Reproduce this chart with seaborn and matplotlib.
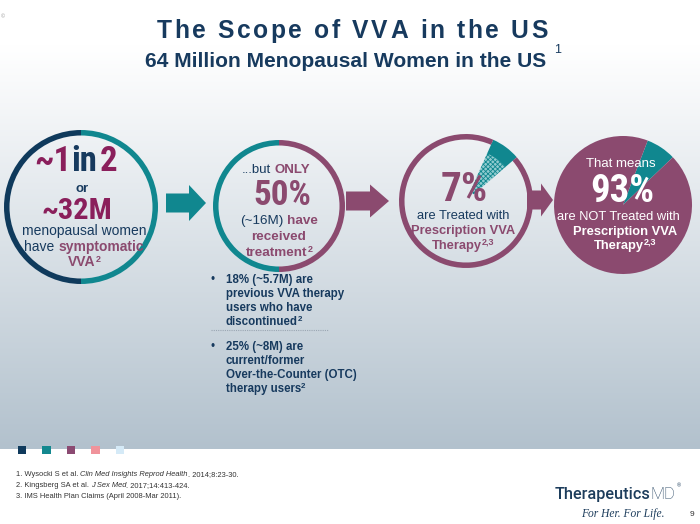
import os
import numpy as np
import pandas as pd
import seaborn as sns
import matplotlib
matplotlib.use("Agg")
import matplotlib.pyplot as plt
from matplotlib.patches import Wedge, Polygon
from matplotlib.colors import to_rgb
from matplotlib import font_manager as fm
from matplotlib.font_manager import FontProperties

# ---------------- data ----------------
title_text = "The Scope of VVA in the US"
subtitle_text = "64 Million Menopausal Women in the US"
symptomatic_split = [50, 50]      # ~1 in 2 menopausal women have symptomatic VVA
treated_split = [50, 50]          # ...but only 50% have received treatment
rx_split = [7, 93]                # treated / NOT treated with prescription VVA therapy
swatch_colors = ["#0f3a5c", "#13888f", "#8b4a72", "#f0939b", "#d5eaf7"]
bullet1 = ["18% (~5.7M) are", "previous VVA therapy", "users who have", "discontinued"]
bullet2 = ["25% (~8M) are", "current/former", "Over-the-Counter (OTC)", "therapy users"]
ref_lines = [
    [("1. Wysocki S et al. ", "normal"), ("Clin Med Insights Reprod Health", "italic"), (". 2014;8:23-30.", "normal")],
    [("2. Kingsberg SA et al. ", "normal"), ("J Sex Med", "italic"), (". 2017;14:413-424.", "normal")],
    [("3. IMS Health Plan Claims (April 2008-Mar 2011).", "normal")],
]

NAVY = "#173a5e"
DNAVY = "#0f3a5c"
TEAL = "#10878f"
PLUM = "#8b4a6f"
MAG = "#8a1f5b"

sns.set_theme(style="white")
SANS = ["Liberation Sans", "DejaVu Sans"]
plt.rcParams["font.family"] = SANS
plt.rcParams["hatch.linewidth"] = 0.6

fig = plt.figure(figsize=(7, 5.24), dpi=100)
ax = fig.add_axes([0, 0, 1, 1])
renderer = fig.canvas.get_renderer()


def _measure(txt, **kw):
    tt = ax.text(0, 0, txt, **kw)
    wd = tt.get_window_extent(renderer).width
    tt.remove()
    return wd


# ---- pick an Arial-Narrow-like bold face only from a known whitelist ----
COND_FP = None
try:
    wanted = ["LiberationSansNarrow-Bold.", "RobotoCondensed-Bold.", "Roboto_Condensed-Bold.",
              "NotoSans-SemiCondensedBold.", "NotoSans-CondensedBold.",
              "OpenSans_Condensed-Bold.", "OpenSansCondensed-Bold.", "OpenSans-CondBold."]
    files = {os.path.basename(f.fname): f.fname for f in fm.fontManager.ttflist}
    ref_w = _measure("~32M 50%", fontsize=20, fontweight="bold", family="Liberation Sans")
    for wnt in wanted:
        hit = [v for k, v in files.items() if k.startswith(wnt)]
        if hit:
            r = _measure("~32M 50%", fontproperties=FontProperties(fname=hit[0]), fontsize=20) / ref_w
            if 0.7 < r < 0.93:
                COND_FP = hit[0]
                break
except Exception:
    COND_FP = None


def P(t, c=NAVY, w="normal", s=None, r=0.0, st="normal", f=None):
    return dict(t=t, c=c, w=w, s=s, r=r, st=st, f=f)


def _kw(p, size, fam):
    fsz = p["s"] or size
    if p["f"] == "COND":
        if COND_FP:
            return dict(fontproperties=FontProperties(fname=COND_FP), fontsize=fsz, color=p["c"])
        return dict(fontsize=fsz, fontweight="bold", family=SANS, color=p["c"])
    return dict(fontsize=fsz, fontweight=p["w"], fontstyle=p["st"], family=p["f"] or fam, color=p["c"])


def _layout(parts, size, fam, track):
    out = []
    for p in parts:
        kw = _kw(p, size, fam)
        txt = p["t"]
        core = txt.strip(" ")
        lead = len(txt) - len(txt.lstrip(" "))
        trail = len(txt) - len(txt.rstrip(" ")) if core else 0
        spw = _measure("x x", **kw) - _measure("xx", **kw)
        if not core:
            out.append((None, kw, lead * spw, 0, 0, p["r"]))
            continue
        if track:
            for ch in txt:
                if ch == " ":
                    out.append((None, kw, spw + track, 0, 0, p["r"]))
                else:
                    out.append((ch, kw, 0, _measure(ch, **kw) + track, 0, p["r"]))
        else:
            out.append((core, kw, lead * spw, _measure(core, **kw), trail * spw, p["r"]))
    total = sum(o[2] + o[3] + o[4] for o in out)
    if track:
        total -= track
    return out, total


def rich(x, y, parts, size=9.5, ha="center", family=None, fit=None, track=0.0, z=6):
    fam = family or SANS
    out, total = _layout(parts, size, fam, track)
    if fit:
        k = fit / total
        size = size * k
        for p in parts:
            if p["s"]:
                p["s"] = p["s"] * k
            p["r"] = p["r"] * k
        out, total = _layout(parts, size, fam, track)
    base = y + 0.358 * size * 100 / 72
    cur = x - total / 2 if ha == "center" else x
    for txt, kw, lead, w, trail, rs in out:
        cur += lead
        if txt is not None:
            ax.text(cur, base - rs, txt, ha="left", va="baseline", zorder=z, **kw)
        cur += w + trail


# ---------------- background ----------------
ys = np.arange(0, 450)
t = np.clip((ys - 45) / (449 - 45), 0, 1) ** 1.05
top = np.array(to_rgb("#ffffff"))
bot = np.array(to_rgb("#b2c1cd"))
grad = top[None, :] * (1 - t[:, None]) + bot[None, :] * t[:, None]
ax.imshow(grad[:, None, :], extent=[0, 700, 449, 0], aspect="auto", zorder=0, interpolation="bilinear")
ax.text(1, 18, "©", fontsize=4, color="#9a9a9a")


# ---------------- circles ----------------
def ring(cx, cy, r, w, values, colors, start=0.0, z=3):
    th = -90 + start
    tot = float(sum(values))
    for v, c in zip(values, colors):
        span = 360 * v / tot
        ax.add_patch(Wedge((cx, cy), r, th, th + span, width=w, fc=c, ec="none", zorder=z))
        th += span


# circle 1: ~1 in 2 have symptomatic VVA (teal right half, navy left half)
ring(81, 207, 77, 5.5, symptomatic_split, [TEAL, DNAVY])
# circle 2: 50% have received treatment (plum right half, teal left half)
ring(279, 206, 66, 5.5, treated_split, [PLUM, TEAL])
# circle 3: 7% treated with prescription therapy
c3 = (466, 201)
ring(c3[0], c3[1], 67, 5.5, rx_split, [TEAL, PLUM], start=24)
span7 = 360 * rx_split[0] / sum(rx_split)
th1 = -90 + 24
ax.add_patch(Wedge(c3, 63, th1, th1 + span7, width=12, fc=TEAL, ec="none", zorder=2))
ax.add_patch(Wedge(c3, 52, th1, th1 + span7, width=42, fc="#8fcbcf", ec="none", zorder=2))
ax.add_patch(Wedge(c3, 52, th1, th1 + span7, width=42, fc="none", ec=TEAL, hatch="xxxxxxx", lw=0, zorder=2))
# circle 4: 93% NOT treated (filled pie)
c4 = (623, 205)
th = -90 + 21
for v, c in zip(rx_split, [TEAL, PLUM]):
    span = 360 * v / sum(rx_split)
    ax.add_patch(Wedge(c4, 69, th, th + span, fc=c, ec="none", zorder=3))
    th += span


# ---------------- arrows ----------------
def arrow(x0, xh, x1, yc, sh, hh, color):
    pts = [(x0, yc - sh / 2), (xh, yc - sh / 2), (xh, yc - hh / 2), (x1, yc),
           (xh, yc + hh / 2), (xh, yc + sh / 2), (x0, yc + sh / 2)]
    ax.add_patch(Polygon(pts, closed=True, fc=color, ec="none", zorder=2))


arrow(166, 189, 206, 203, 19, 36, TEAL)
arrow(346, 370, 389, 201, 19, 33, PLUM)
arrow(527, 541, 553, 200, 19, 33, PLUM)

# ---------------- titles ----------------
rich(352, 29, [P(title_text, NAVY, "bold")], size=17.7, track=2.6)
rich(346, 59, [P(subtitle_text, NAVY, "bold")], size=15, fit=402)
ax.text(554, 53, "1", fontsize=9, color=NAVY, va="baseline")

# ---------------- circle texts ----------------
SUP = 6.5
k_fit = 1.0 if COND_FP else 1.05
rich(76, 159, [P("~1", MAG, f="COND"), P("in", NAVY, f="COND"), P(" ", s=6), P("2", MAG, f="COND")],
     size=26, fit=83 * k_fit)
rich(82, 187, [P("or", NAVY, "bold")], size=9.5)
rich(77, 208, [P("~32M", MAG, f="COND")], size=25, fit=71 * k_fit)
rich(84, 230, [P("menopausal women", NAVY)], size=10)
rich(84, 246, [P("have ", NAVY), P("symptomatic", PLUM, "bold")], size=10)
rich(84, 261, [P("VVA", PLUM, "bold"), P("2", PLUM, "bold", s=SUP, r=4)], size=10)

rich(276, 168, [P("...but ", NAVY), P("ONLY", PLUM, "bold")], size=9.5)
rich(282, 192, [P("50%", PLUM, f="COND")], size=25, fit=58 * k_fit)
rich(279, 219, [P("(~16M) ", NAVY), P("have", PLUM, "bold")], size=9.7)
rich(279, 235, [P("received", PLUM, "bold")], size=9.7)
rich(279, 251, [P("treatment", PLUM, "bold"), P("2", PLUM, "bold", s=SUP, r=4)], size=9.7)

rich(464, 186.5, [P("7%", PLUM, f="COND")], size=27, fit=47 * k_fit)
rich(463, 214, [P("are Treated with", NAVY)], size=9.3)
rich(463, 229, [P("Prescription VVA", PLUM, "bold")], size=9.3)
rich(463, 244, [P("Therapy", PLUM, "bold"), P("2,3", PLUM, "bold", s=SUP, r=4)], size=9.3)

W = "white"
rich(621, 162, [P("That means", W)], size=9.5)
rich(622, 188.5, [P("93%", W, f="COND")], size=27, fit=64 * k_fit)
rich(618, 215, [P("are NOT Treated with", W)], size=9.3)
rich(625, 230, [P("Prescription VVA", W, "bold")], size=9.3)
rich(625, 244, [P("Therapy", W, "bold"), P("2,3", W, "bold", s=SUP, r=4)], size=9.3)

# ---------------- bullets ----------------
BS = 8.3
for lines, y0 in [(bullet1, 279), (bullet2, 346)]:
    ax.text(213, y0 + 0.358 * BS * 100 / 72, "•", fontsize=BS, color=NAVY, ha="center", va="baseline")
    for i, ln in enumerate(lines):
        parts = [P(ln, NAVY, "bold")]
        if i == len(lines) - 1:
            parts.append(P("2", NAVY, "bold", s=5.8, r=3.5))
        rich(226, y0 + i * 13.9, parts, size=BS, ha="left")
ax.plot([211, 328], [329.5, 329.5], color="#9aa6b2", lw=0.8, ls=(0, (1, 1)), zorder=4)

# ---------------- swatches ----------------
sw = pd.DataFrame({"x": 22 + 24.5 * np.arange(len(swatch_colors)),
                   "y": np.full(len(swatch_colors), 450.0),
                   "c": swatch_colors})
sns.scatterplot(data=sw, x="x", y="y", hue="c", palette=swatch_colors, marker="s",
                s=36, linewidth=0, legend=False, ax=ax, zorder=5)

# ---------------- references ----------------
for i, ln in enumerate(ref_lines):
    rich(16, 473 + i * 11.2, [P(t_, "#333333", st=st_) for t_, st_ in ln], size=5.4, ha="left")

# ---------------- logo ----------------
LOGO = ["Roboto", "Liberation Sans", "DejaVu Sans"]
rich(555, 493, [P("Therapeutics", "#1d3d5c", w="medium", f=LOGO), P("MD", "#1d3d5c", w="light", f=LOGO)],
     size=11, ha="left", fit=120)
ax.text(677, 487, "®", fontsize=4, color="#1d3d5c", va="baseline")
rich(581, 513, [P("For Her. For Life.", "#1d3d5c", st="italic", f=["Liberation Serif", "DejaVu Serif"])],
     size=7, ha="left", fit=84)
ax.text(692, 515.5, "9", fontsize=6, color="#333333", ha="center", va="baseline")

ax.set_xlim(0, 700)
ax.set_ylim(524, 0)
ax.set_axis_off()
fig.savefig("out.png", dpi=100, facecolor="white")
